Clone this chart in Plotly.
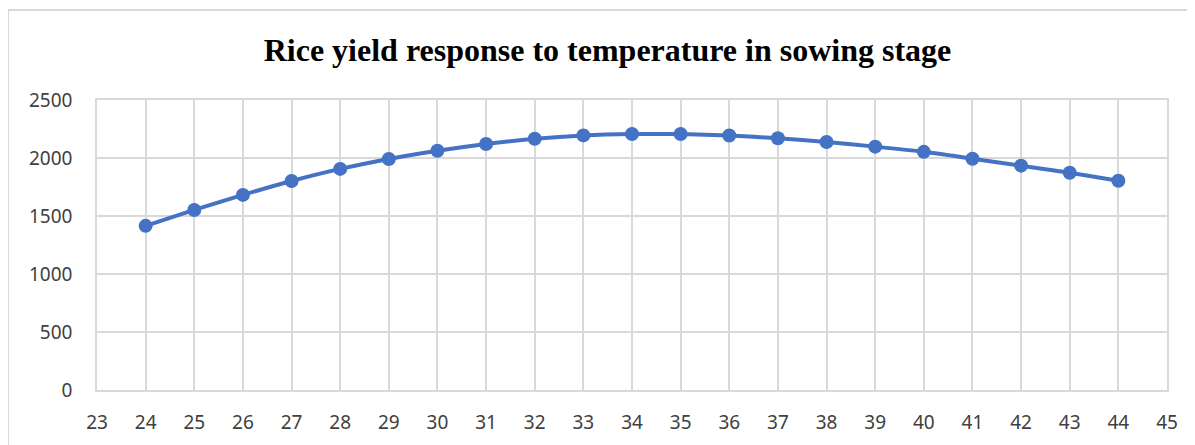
import plotly.graph_objects as go

temperature = [24, 25, 26, 27, 28, 29, 30, 31, 32, 33, 34, 35, 36, 37, 38, 39, 40, 41, 42, 43, 44]
yield_values = [1415, 1552, 1682, 1802, 1906, 1992, 2063, 2121, 2166, 2195, 2207, 2207, 2194, 2170, 2138, 2098, 2053, 1994, 1934, 1873, 1804]
x_ticks = list(range(23, 46))
y_ticks = [0, 500, 1000, 1500, 2000, 2500]
title_text = "Rice yield response to temperature in sowing stage"

# the page body adds an 8px offset, so the figure is sized to fill the rest
OFF = 8
W, H = 1195 - OFF, 445 - OFF
L, R, T, B = 97 - OFF, 28, 100 - OFF, 55
pw, ph = W - L - R, H - T - B

fig = go.Figure()
fig.add_trace(go.Scatter(
    x=temperature, y=yield_values, mode="lines+markers",
    line=dict(color="#4472C4", width=4, shape="spline", smoothing=0.6),
    marker=dict(color="#4472C4", size=14),
    showlegend=False,
))

grid = "#d9d9d9"
fig.update_layout(
    width=W, height=H,
    margin=dict(l=L, r=R, t=T, b=B, autoexpand=False),
    paper_bgcolor="white", plot_bgcolor="white",
    xaxis=dict(range=[23, 45], tickvals=x_ticks, ticktext=[str(v) for v in x_ticks],
               showgrid=True, gridcolor=grid, gridwidth=1.6, zeroline=False,
               showline=True, linecolor=grid, linewidth=1.6, mirror=True,
               ticks="", ticklabelstandoff=14, automargin=False,
               tickfont=dict(family="Noto Sans", size=19, color="#404040")),
    yaxis=dict(range=[0, 2500], tickvals=y_ticks, ticktext=[str(v) for v in y_ticks],
               showgrid=True, gridcolor=grid, gridwidth=1.6, zeroline=False,
               showline=True, linecolor=grid, linewidth=1.6, mirror=True,
               ticks="", ticklabelstandoff=19, automargin=False,
               tickfont=dict(family="Noto Sans", size=19, color="#404040")),
    title=dict(text="<b>" + title_text + "</b>", x=(607.5 - OFF) / W, xanchor="center",
               y=1 - (50 - OFF) / H, yanchor="middle",
               font=dict(family="Liberation Serif", size=32, color="black")),
)

# outer chart-area border (continues past the bottom and right edges)
fig.add_shape(type="rect", xref="paper", yref="paper",
              x0=(8 - 97) / pw, x1=1.3,
              y0=-0.5, y1=(390 - 10) / ph,
              line=dict(color="#d9d9d9", width=2), fillcolor="rgba(0,0,0,0)", layer="below")

fig.write_html("out.html")
